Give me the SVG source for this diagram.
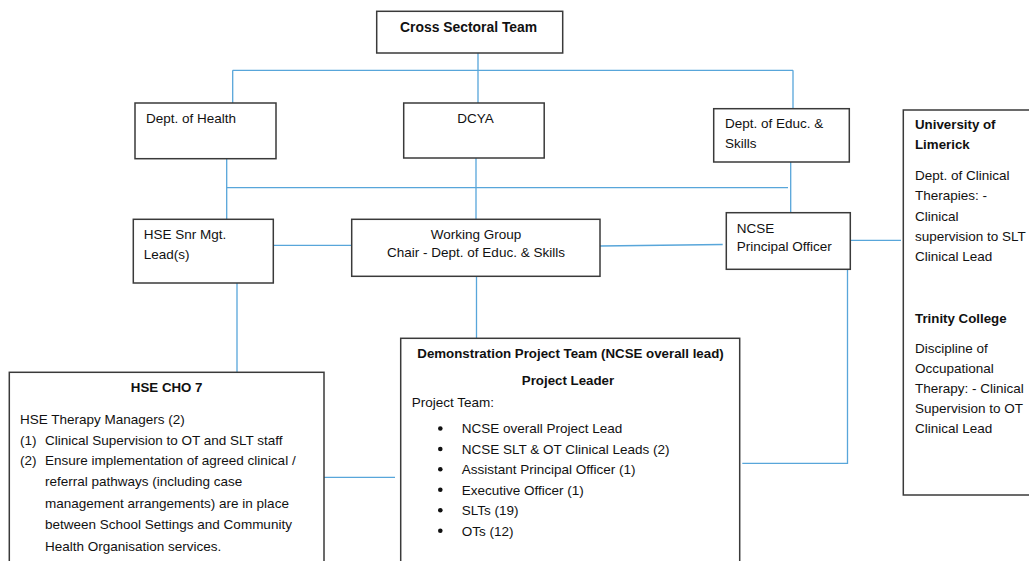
<svg xmlns="http://www.w3.org/2000/svg" width="1029" height="561" viewBox="0 0 1029 561">
<style>
.box{fill:#fff;stroke:#3a3a3a;stroke-width:1.5}
.c{stroke:#58a6da;stroke-width:1.3;fill:none}
text{font-family:"Liberation Sans",Arial,sans-serif;font-size:13.5px;fill:#111}
.b{font-weight:bold;font-size:13.3px}
.m{text-anchor:middle}
</style>
<rect width="1029" height="561" fill="#fff"/>
<g id="connectors">
<path class="c" d="M478 53V70.3M232.7 70.3H793M232.7 70.3V103M478 70.3V103M793 70.3V108.7"/>
<path class="c" d="M226.7 158.7V219.3M226.7 187.7H788M476 158V219.3M790.7 162V212.7"/>
<path class="c" d="M273.3 245.3H351.7M600 246L722.7 244.5M850.3 240.3H901"/>
<path class="c" d="M476.5 276.3V338.3M237 283V372.3M324 477.3H395M847.5 269.3V463.3H742.3"/>
</g>
<g id="cross-sectoral">
<rect class="box" x="376.7" y="11.3" width="186" height="41.7"/>
<text class="b" x="400" y="32.3" style="font-size:13.9px">Cross Sectoral Team</text>
</g>
<g id="dept-health">
<rect class="box" x="135" y="103" width="141" height="55.7"/>
<text x="146" y="123.3">Dept. of Health</text>
</g>
<g id="dcya">
<rect class="box" x="403.7" y="103" width="140.5" height="55"/>
<text x="457.3" y="123.3">DCYA</text>
</g>
<g id="dept-educ">
<rect class="box" x="713.7" y="108.7" width="135.6" height="53.3"/>
<text x="725" y="128.3">Dept. of Educ. &amp;</text>
<text x="725" y="148.3">Skills</text>
</g>
<g id="hse-snr">
<rect class="box" x="133.3" y="219.3" width="140" height="63.7"/>
<text x="143.7" y="239.3">HSE Snr Mgt.</text>
<text x="143.7" y="259.3">Lead(s)</text>
</g>
<g id="working-group">
<rect class="box" x="351.7" y="219.3" width="248.3" height="57"/>
<text class="m" x="476" y="239.3">Working Group</text>
<text class="m" x="476" y="257.3">Chair - Dept. of Educ. &amp; Skills</text>
</g>
<g id="ncse">
<rect class="box" x="726.3" y="212.7" width="124" height="56.6"/>
<text x="736.7" y="232.7">NCSE</text>
<text x="736.7" y="250.7">Principal Officer</text>
</g>
<g id="universities">
<rect class="box" x="903.3" y="110" width="130" height="385"/>
<text class="b" x="915" y="129">University of</text>
<text class="b" x="915" y="149.3">Limerick</text>
<text x="915" y="180">Dept. of Clinical</text>
<text x="915" y="200.3">Therapies: -</text>
<text x="915" y="220.5">Clinical</text>
<text x="915" y="240.5">supervision to SLT</text>
<text x="915" y="260.5">Clinical Lead</text>
<text class="b" x="915" y="323">Trinity College</text>
<text x="915" y="353">Discipline of</text>
<text x="915" y="373">Occupational</text>
<text x="915" y="393">Therapy: - Clinical</text>
<text x="915" y="413">Supervision to OT</text>
<text x="915" y="433">Clinical Lead</text>
</g>
<g id="hse-cho7">
<rect class="box" x="9.3" y="372.3" width="314.7" height="200"/>
<text class="b m" x="166.7" y="391.7">HSE CHO 7</text>
<text x="20" y="424.3">HSE Therapy Managers (2)</text>
<text x="20" y="444.5">(1)</text>
<text x="45" y="444.5">Clinical Supervision to OT and SLT staff</text>
<text x="20" y="465">(2)</text>
<text x="45" y="465">Ensure implementation of agreed clinical /</text>
<text x="45" y="486">referral pathways (including case</text>
<text x="45" y="507.7">management arrangements) are in place</text>
<text x="45" y="529.3">between School Settings and Community</text>
<text x="45" y="550.7">Health Organisation services.</text>
</g>
<g id="demo-team">
<rect class="box" x="400.7" y="338.3" width="339" height="240"/>
<text class="b m" x="570.5" y="358.3">Demonstration Project Team (NCSE overall lead)</text>
<text class="b m" x="568" y="385">Project Leader</text>
<text x="411.7" y="406.7">Project Team:</text>
<g>
<circle cx="440.3" cy="428.5" r="2.3" fill="#111"/>
<circle cx="440.3" cy="449" r="2.3" fill="#111"/>
<circle cx="440.3" cy="469.3" r="2.3" fill="#111"/>
<circle cx="440.3" cy="489.8" r="2.3" fill="#111"/>
<circle cx="440.3" cy="510.2" r="2.3" fill="#111"/>
<circle cx="440.3" cy="530.7" r="2.3" fill="#111"/>
</g>
<text x="461.7" y="433.3">NCSE overall Project Lead</text>
<text x="461.7" y="453.7">NCSE SLT &amp; OT Clinical Leads (2)</text>
<text x="461.7" y="474">Assistant Principal Officer (1)</text>
<text x="461.7" y="494.5">Executive Officer (1)</text>
<text x="461.7" y="515">SLTs (19)</text>
<text x="461.7" y="535.5">OTs (12)</text>
</g>
</svg>
